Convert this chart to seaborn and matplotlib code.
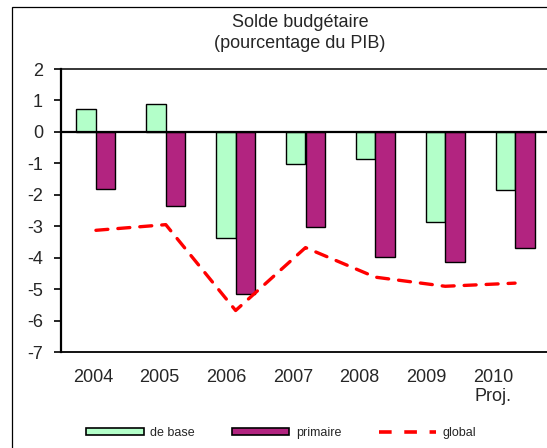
import numpy as np
import pandas as pd
import matplotlib
matplotlib.use("Agg")
import matplotlib.pyplot as plt
import matplotlib.transforms as mtransforms
from matplotlib.patches import Patch, Rectangle
from matplotlib.lines import Line2D
import seaborn as sns

# Budget balance, % of GDP
years = ["2004", "2005", "2006", "2007", "2008", "2009", "2010"]
year_labels = ["2004", "2005", "2006", "2007", "2008", "2009", "2010\nProj."]
de_base = [0.72, 0.88, -3.38, -1.02, -0.85, -2.87, -1.86]
primaire = [-1.81, -2.37, -5.15, -3.03, -3.98, -4.15, -3.70]
global_ = [-3.13, -2.95, -5.68, -3.68, -4.62, -4.91, -4.81]
yticks = [-7, -6, -5, -4, -3, -2, -1, 0, 1, 2]

series_names = ["de base", "primaire"]
colors = {"de base": "#B3FFC9", "primaire": "#B22480"}

sns.set_theme(style="white")
plt.rcParams["font.family"] = ["Liberation Sans", "DejaVu Sans"]

df = pd.DataFrame({
    "year": years * 2,
    "serie": ["de base"] * len(years) + ["primaire"] * len(years),
    "value": de_base + primaire,
})

fig = plt.figure(figsize=(5.47, 4.48), dpi=100)
ax = fig.add_axes([61 / 547, 1 - 352 / 448, (550 - 61) / 547, (352 - 69) / 448])

sns.barplot(data=df, x="year", y="value", hue="serie", order=years,
            hue_order=series_names, palette=colors, width=0.56, gap=0,
            edgecolor="black", linewidth=1.0, saturation=1, ax=ax,
            legend=False, zorder=2)

sns.lineplot(x=np.arange(len(years)), y=global_, color="#FF0000", lw=2.4,
             ax=ax, zorder=3, dashes=False)
for ln in ax.lines:
    ln.set_linestyle((0, (3.6, 3)))
    ln.set_dash_capstyle("round")

ax.axhline(0, color="black", lw=1.6, zorder=4)

ax.set_xlim(-0.5, len(years) - 0.5)
ax.set_ylim(-7, 2)
ax.set_yticks(yticks)
ax.set_yticklabels([str(t) for t in yticks])
ax.set_xticks(range(len(years)))
ax.set_xticklabels(year_labels)
ax.set_xlabel("")
ax.set_ylabel("")
ax.tick_params(axis="y", length=5, width=1.2, color="black", pad=8,
               labelsize=13, left=True, direction="out")
ax.tick_params(axis="x", length=0, pad=12, labelsize=13)

# Category labels sit on a slightly tighter pitch than the bar groups
for i, lab in enumerate(ax.get_xticklabels()):
    lab.set_linespacing(1.2)
    dx = (-2.9 - 3.2 * i) / 100.0
    lab.set_transform(lab.get_transform() +
                      mtransforms.ScaledTranslation(dx, 0, fig.dpi_scale_trans))

for side, lw in [("left", 1.6), ("top", 1.1), ("bottom", 1.3), ("right", 1.1)]:
    ax.spines[side].set_visible(True)
    ax.spines[side].set_color("black")
    ax.spines[side].set_linewidth(lw)

fig.text(300 / 547, 1 - 33 / 448, "Solde budgétaire\n(pourcentage du PIB)",
         ha="center", va="center", fontsize=13, linespacing=1.3)

# Outer chart frame
fig.patches.append(Rectangle((12 / 547, -0.1), 1.0, 1.1 - 7 / 448,
                             transform=fig.transFigure, fill=False,
                             edgecolor="black", lw=0.9))

handles = [
    Patch(facecolor=colors["de base"], edgecolor="black", lw=1.2),
    Patch(facecolor=colors["primaire"], edgecolor="black", lw=1.2),
    Line2D([0], [0], color="#FF0000", lw=2.6, linestyle=(0, (3.5, 3.5))),
]
fig.legend(handles, ["de base", "primaire", "global"], loc="center",
           bbox_to_anchor=(281 / 547, 1 - 433 / 448), ncol=3, frameon=False,
           fontsize=9, handlelength=4.6, handleheight=0.45,
           handletextpad=0.5, columnspacing=3.0)

fig.savefig("out.png", dpi=100)
